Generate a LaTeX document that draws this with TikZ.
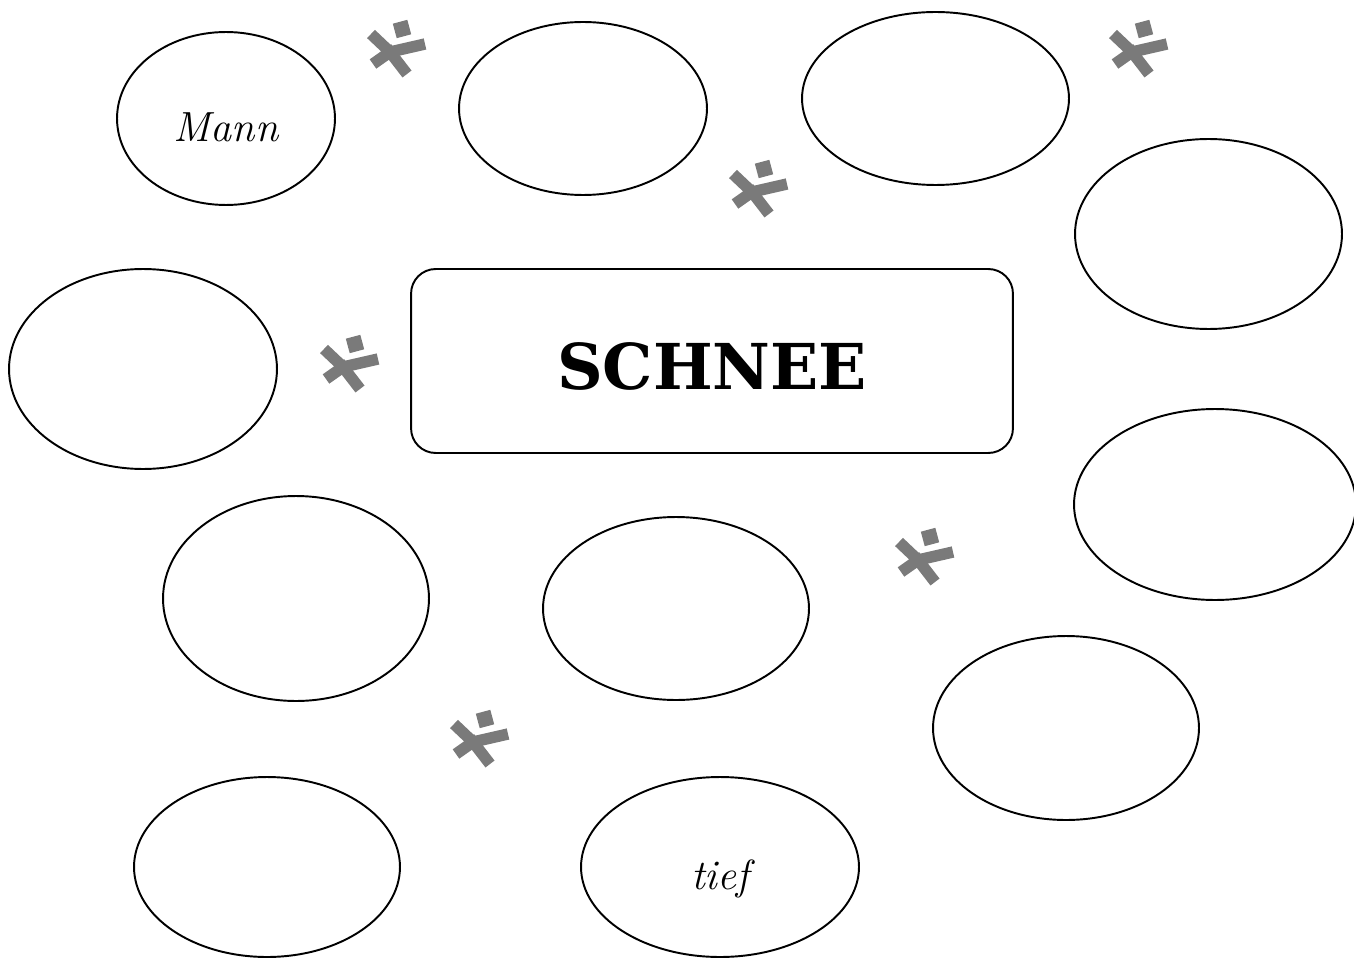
\documentclass[tikz,border=0pt]{standalone}
\usepackage{fontspec}
\usetikzlibrary{shapes.geometric}
\newfontfamily\titlefont{DejaVu Serif}
\definecolor{flakegray}{HTML}{7A7A7A}
\tikzset{
    wordbubble/.style={ellipse,draw,line width=1.1pt,inner sep=0pt,font=\itshape\fontsize{24}{28}\selectfont},
    lowword/.style={text height=28pt,text depth=2pt},
    titlebox/.style={rectangle,draw,rounded corners=14pt,line width=1.1pt,minimum width=12.04cm,minimum height=3.68cm,
        text height=33pt,text depth=0pt,font=\titlefont\bfseries\fontsize{36}{40}\selectfont},
    flake/.pic={
        \draw[flakegray,line width=6.5pt] (-19,-18) -- (0,0) -- (35,-8);
        \draw[flakegray,line width=6.5pt] (-17,12) -- (0,0) -- (17,22);
        \fill[flakegray,rotate around={15:(12,-23)}] (4.5,-30.5) rectangle (19.5,-15.5);
    }
}
\begin{document}
\begin{tikzpicture}[x=0.02cm,y=-0.02cm]
    \useasboundingbox (0,0) rectangle (1354,959);
    % centre word
    \node[titlebox] (schnee) at (712,361) {SCHNEE};
    % word bubbles
    \node[wordbubble,lowword,minimum width=4.36cm,minimum height=3.46cm] (mann) at (226,118.5) {Mann};
    \node[wordbubble,minimum width=4.96cm,minimum height=3.46cm] (topmid) at (583,108.5) {};
    \node[wordbubble,minimum width=5.34cm,minimum height=3.46cm] (topright) at (935.5,98.5) {};
    \node[wordbubble,minimum width=5.34cm,minimum height=3.80cm] (rightup) at (1208.5,234) {};
    \node[wordbubble,minimum width=5.36cm,minimum height=4.00cm] (leftmid) at (143,369) {};
    \node[wordbubble,minimum width=5.32cm,minimum height=4.10cm] (lowleft) at (296,598.5) {};
    \node[wordbubble,minimum width=5.32cm,minimum height=3.66cm] (lowmid) at (676,608.5) {};
    \node[wordbubble,minimum width=5.64cm,minimum height=3.82cm] (rightmid) at (1215,504.5) {};
    \node[wordbubble,minimum width=5.32cm,minimum height=3.68cm] (rightlow) at (1066,728) {};
    \node[wordbubble,minimum width=5.32cm,minimum height=3.60cm] (bottomleft) at (267,867) {};
    \node[wordbubble,lowword,minimum width=5.56cm,minimum height=3.60cm] (tief) at (720,867) {tief};
    % snowflakes
    \foreach \fx/\fy in {390/52,1132/52,752/192,343/367,918/560,473/742}
        \pic at (\fx,\fy) {flake};
\end{tikzpicture}
\end{document}
